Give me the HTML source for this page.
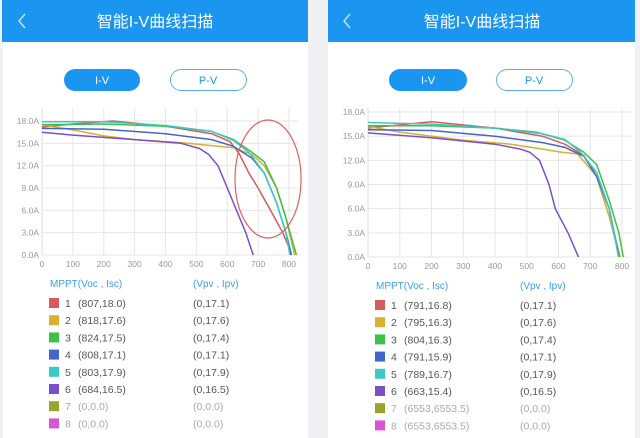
<!DOCTYPE html>
<html><head><meta charset="utf-8"><style>
html,body{margin:0;padding:0;background:#eef0f3;}
body{width:640px;height:438px;overflow:hidden;position:relative;font-family:"Liberation Sans","Noto Sans CJK SC",sans-serif;}
</style></head><body>
<svg id="s" width="640" height="438" xmlns="http://www.w3.org/2000/svg" style="position:absolute;left:0;top:0" font-family="Liberation Sans, Noto Sans CJK SC, sans-serif">
<rect x="3" y="0" width="305" height="438" fill="#fff"/>
<rect x="328" y="0" width="307" height="438" fill="#fff"/>
<rect x="2" y="0" width="306" height="42" fill="#1a96f0"/>
<rect x="328" y="0" width="307" height="42" fill="#1a96f0"/>
<g fill="#fff" font-size="16" text-anchor="middle">
<text x="155" y="27">智能I-V曲线扫描</text>
<text x="482" y="27">智能I-V曲线扫描</text>
</g>
<g stroke="#bfe0fb" stroke-width="1.5" fill="none">
<polyline points="25,14 19,21 25,28"/>
<polyline points="32,16 26,23 32,30" transform="translate(318,-2)"/>
</g>
<rect x="64" y="69" width="76" height="22" rx="11" fill="#1a96f0"/>
<rect x="170.5" y="69.5" width="76" height="21" rx="10.5" fill="#fff" stroke="#5aaef0"/>
<rect x="389" y="69" width="78" height="22" rx="11" fill="#1a96f0"/>
<rect x="496.5" y="69.5" width="76" height="21" rx="10.5" fill="#fff" stroke="#5aaef0"/>
<g font-size="11" text-anchor="middle">
<text x="102" y="84" fill="#fff">I-V</text><text x="208" y="84" fill="#1a96f0">P-V</text>
<text x="428" y="84" fill="#fff">I-V</text><text x="534" y="84" fill="#1a96f0">P-V</text>
</g>
<g id="c1"></g><g id="c2"></g>
<ellipse cx="268" cy="179" rx="33" ry="59" fill="none" stroke="#e06060" stroke-width="1.2"/>
<g id="leg"></g>
</svg>
<script>
var NS="http://www.w3.org/2000/svg";
function el(p,t,a,txt){var e=document.createElementNS(NS,t);for(var k in a)e.setAttribute(k,a[k]);if(txt!=null)e.textContent=txt;p.appendChild(e);return e;}
var cols=["#d65c5c","#d9b030","#3cc24a","#4466cc","#3cc8c8","#7b4fc9","#99a52b","#d856d0"];
function chart(g,x0,x800,y18,y0,top,data){
 var sx=(x800-x0)/800, sy=(y0-y18)/18;
 for(var i=0;i<=8;i++){var x=x0+i*100*sx;el(g,"line",{x1:x,y1:top,x2:x,y2:y0,stroke:"#e6e6e6"});
  el(g,"text",{x:x,y:y0+12,"font-size":8.5,fill:"#999","text-anchor":"middle"},String(i*100));}
 el(g,"line",{x1:x0,y1:top,x2:x0,y2:y0,stroke:"#ddd"});
 for(var j=0;j<=6;j++){var y=y0-j*3*sy;el(g,"line",{x1:x0,y1:y,x2:x0+830*sx,y2:y,stroke:"#e6e6e6"});
  el(g,"text",{x:x0-3,y:y+3,"font-size":8.5,fill:"#999","text-anchor":"end"},(j*3).toFixed(1)+"A");}
 data.forEach(function(d,k){var pts=[];for(var i=0;i<d.length;i+=2)pts.push((x0+d[i]*sx).toFixed(1)+","+(y0-d[i+1]*sy).toFixed(1));
  el(g,"polyline",{points:pts.join(" "),fill:"none",stroke:cols[k],"stroke-width":1.5,"stroke-linejoin":"round"});});
}
chart(document.getElementById("c1"),42,289,121,255,108,[
[0,17.2,100,17.6,230,18.0,400,17.3,550,16.3,610,15.2,640,13.5,670,11,700,9,740,6,780,3,800,1,807,0],
[0,17.5,100,16.8,200,16,300,15.5,450,15.1,550,14.7,620,14.4,680,13.5,720,12,760,9,790,5,818,0],
[0,17.5,200,17.6,400,17.3,550,16.6,620,15.5,680,13.8,720,12.5,760,9,790,5,810,2,824,0],
[0,17.0,200,16.9,400,16.3,550,15.5,620,14.6,680,13,720,11,760,7,790,3,808,0],
[0,17.9,200,17.9,400,17.4,550,16.6,620,15.4,670,13.8,720,11,760,7,790,3,803,0],
[0,16.5,100,16.1,300,15.5,450,15,510,14.3,540,13.5,570,12,600,9,630,6,660,3,684,0]]);
chart(document.getElementById("c2"),368,622,112,257,108,[
[0,16,200,16.8,400,16,550,15,620,14,680,12.6,720,10,760,5,780,2,791,0],
[0,16.2,100,15.5,300,14.5,450,14,550,13.4,610,13,660,12.8,720,10,760,5,795,0],
[0,16.3,200,16.3,400,16,530,15.5,620,14.5,680,13,720,11.5,760,7,790,3,804,0],
[0,15.8,200,15.7,400,15,550,14.2,620,13.6,680,12.5,720,10,760,6,791,0],
[0,16.7,200,16.5,400,16,550,15.3,620,14.6,670,13,720,10.5,760,6,789,0],
[0,15.4,200,14.8,400,14,480,13.4,510,13,540,12,570,9,590,6,630,3,663,0]]);
var leg=document.getElementById("leg");
function legend(x,vx,y,rows){
 el(leg,"text",{x:x+1,y:y+4,"font-size":10,fill:"#3aa0e6"},"MPPT(Voc , Isc)");
 el(leg,"text",{x:vx,y:y+4,"font-size":10,fill:"#3aa0e6"},"(Vpv , Ipv)");
 rows.forEach(function(r,i){var yy=y+20+i*17.2;var c=i<6?"#555":"#aaa";
  el(leg,"rect",{x:x,y:yy-5,width:10,height:10,fill:cols[i]});
  el(leg,"text",{x:x+16,y:yy+4,"font-size":10.5,fill:c},String(i+1));
  el(leg,"text",{x:x+29,y:yy+4,"font-size":10.5,fill:c},r[0]);
  el(leg,"text",{x:vx,y:yy+4,"font-size":10.5,fill:c},r[1]);});
}
legend(49,193,283,[["(807,18.0)","(0,17.1)"],["(818,17.6)","(0,17.6)"],["(824,17.5)","(0,17.4)"],["(808,17.1)","(0,17.1)"],["(803,17.9)","(0,17.9)"],["(684,16.5)","(0,16.5)"],["(0,0.0)","(0,0.0)"],["(0,0.0)","(0,0.0)"]]);
legend(375,520,285,[["(791,16.8)","(0,17.1)"],["(795,16.3)","(0,17.6)"],["(804,16.3)","(0,17.4)"],["(791,15.9)","(0,17.1)"],["(789,16.7)","(0,17.9)"],["(663,15.4)","(0,16.5)"],["(6553,6553.5)","(0,0.0)"],["(6553,6553.5)","(0,0.0)"]]);
</script>
</body></html>
